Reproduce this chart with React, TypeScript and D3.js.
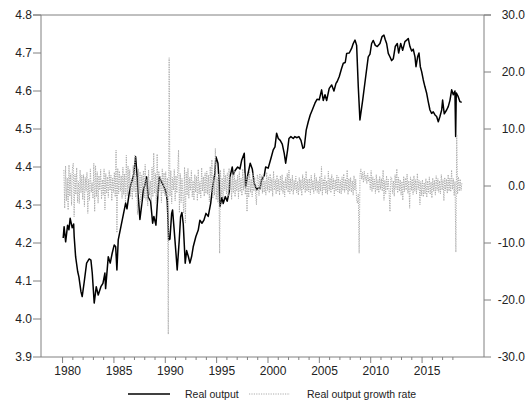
import React from 'react';
import * as d3 from 'd3';

// Log real output, [decimal year, value]
const output1980s: [number, number][] = [
  [1980.06, 4.213], [1980.15, 4.243], [1980.3, 4.203], [1980.49, 4.247], [1980.62, 4.235], [1980.74, 4.265],
  [1980.94, 4.24], [1981.08, 4.25], [1981.13, 4.217], [1981.27, 4.164], [1981.47, 4.125], [1981.59, 4.111],
  [1981.79, 4.072], [1981.91, 4.059], [1982.11, 4.098], [1982.34, 4.147], [1982.59, 4.158], [1982.76, 4.155],
  [1982.89, 4.121], [1983.08, 4.042], [1983.28, 4.085], [1983.47, 4.063], [1983.73, 4.085], [1983.93, 4.094],
  [1984.12, 4.121], [1984.19, 4.08], [1984.45, 4.164], [1984.64, 4.147], [1984.83, 4.173], [1985.03, 4.195],
  [1985.17, 4.19], [1985.29, 4.129], [1985.42, 4.208], [1985.68, 4.243], [1985.91, 4.274], [1986.14, 4.305],
  [1986.27, 4.29], [1986.46, 4.326], [1986.59, 4.348], [1986.78, 4.366], [1986.92, 4.38], [1987.11, 4.427],
  [1987.24, 4.383], [1987.37, 4.322], [1987.53, 4.262], [1987.76, 4.313], [1987.86, 4.339], [1988.02, 4.353],
  [1988.18, 4.374], [1988.34, 4.32], [1988.57, 4.31], [1988.77, 4.252], [1988.89, 4.27], [1989.09, 4.247],
  [1989.31, 4.339], [1989.41, 4.374], [1989.64, 4.36], [1989.87, 4.348],
];
const output1990s: [number, number][] = [
  [1990.06, 4.335], [1990.19, 4.313], [1990.33, 4.208], [1990.45, 4.21], [1990.62, 4.278], [1990.71, 4.287],
  [1990.84, 4.243], [1991.04, 4.173], [1991.16, 4.129], [1991.36, 4.208], [1991.49, 4.269], [1991.62, 4.28],
  [1991.75, 4.25], [1991.94, 4.147], [1992.08, 4.18], [1992.24, 4.165], [1992.4, 4.147], [1992.57, 4.165],
  [1992.72, 4.19], [1992.98, 4.217], [1993.21, 4.234], [1993.37, 4.26], [1993.57, 4.252], [1993.76, 4.26],
  [1993.96, 4.278], [1994.18, 4.27], [1994.42, 4.304], [1994.61, 4.348], [1994.83, 4.383], [1994.93, 4.427],
  [1995.13, 4.41], [1995.25, 4.357], [1995.32, 4.296], [1995.52, 4.32], [1995.64, 4.304], [1995.84, 4.322],
  [1996.03, 4.31], [1996.23, 4.335], [1996.3, 4.374], [1996.52, 4.4], [1996.62, 4.38], [1996.78, 4.39],
  [1997.05, 4.4], [1997.27, 4.395], [1997.44, 4.418], [1997.69, 4.436], [1997.82, 4.348], [1998.02, 4.378],
  [1998.27, 4.41], [1998.47, 4.395], [1998.66, 4.357], [1998.9, 4.34], [1999.05, 4.345], [1999.22, 4.343],
  [1999.38, 4.366], [1999.64, 4.378], [1999.77, 4.4],
];
const output2000s: [number, number][] = [
  [2000.02, 4.397], [2000.29, 4.423], [2000.51, 4.445], [2000.68, 4.453], [2000.84, 4.489], [2001.0, 4.475],
  [2001.19, 4.47], [2001.39, 4.46], [2001.58, 4.436], [2001.72, 4.41], [2001.91, 4.445], [2002.04, 4.475],
  [2002.23, 4.48], [2002.46, 4.475], [2002.62, 4.48], [2002.79, 4.477], [2003.01, 4.48], [2003.21, 4.47],
  [2003.4, 4.449], [2003.53, 4.452], [2003.72, 4.497], [2003.92, 4.519], [2004.11, 4.537], [2004.31, 4.55],
  [2004.57, 4.568], [2004.77, 4.578], [2004.99, 4.577], [2005.22, 4.603], [2005.38, 4.575], [2005.55, 4.59],
  [2005.71, 4.575], [2005.96, 4.607], [2006.2, 4.616], [2006.42, 4.6], [2006.62, 4.62], [2006.74, 4.625],
  [2006.94, 4.638], [2007.17, 4.66], [2007.33, 4.673], [2007.52, 4.675], [2007.66, 4.699], [2007.91, 4.7],
  [2008.14, 4.712], [2008.3, 4.725], [2008.47, 4.734], [2008.63, 4.72], [2008.79, 4.611], [2008.95, 4.524],
  [2009.22, 4.576], [2009.47, 4.629], [2009.76, 4.69], [2009.93, 4.697],
];
const output2010s: [number, number][] = [
  [2010.09, 4.725], [2010.25, 4.733], [2010.45, 4.72], [2010.64, 4.717], [2010.9, 4.725], [2011.1, 4.743],
  [2011.29, 4.747], [2011.42, 4.735], [2011.55, 4.725], [2011.71, 4.699], [2011.87, 4.69], [2012.04, 4.68],
  [2012.2, 4.685], [2012.39, 4.717], [2012.59, 4.725], [2012.72, 4.7], [2012.92, 4.725], [2013.11, 4.707],
  [2013.33, 4.73], [2013.5, 4.734], [2013.66, 4.738], [2013.82, 4.717], [2013.99, 4.705], [2014.14, 4.71],
  [2014.31, 4.69], [2014.41, 4.664], [2014.57, 4.69], [2014.7, 4.7], [2014.83, 4.664], [2014.96, 4.651],
  [2015.12, 4.629], [2015.28, 4.611], [2015.45, 4.594], [2015.6, 4.572], [2015.77, 4.55], [2015.93, 4.541],
  [2016.09, 4.545], [2016.26, 4.537], [2016.42, 4.533], [2016.58, 4.519], [2016.74, 4.533], [2016.91, 4.55],
  [2017.0, 4.576], [2017.16, 4.54], [2017.39, 4.55], [2017.55, 4.559], [2017.72, 4.576], [2017.88, 4.603],
  [2018.04, 4.59], [2018.2, 4.6], [2018.27, 4.48], [2018.33, 4.595], [2018.52, 4.585], [2018.69, 4.572],
  [2018.86, 4.57],
];

// Monthly growth rate of real output (%), one row per year
const growthStart = { year: 1980, month: 1 }; // February 1980
const growth1980s: number[] = [
  2.8, -3.9, 3.5, -2.6, 1.4, -4.2, 3.7, -1.8, 2.2, -3.4, 3.1,
  4.0, -5.4, 2.1, -1.5, 3.2, -2.9, 0.8, -3.1, 2.8, -1.2, 1.9, -2.4,
  2.0, -3.6, 1.5, -0.9, 2.4, -4.8, 1.2, -2.5, 3.0, -1.1, 0.6, -2.2,
  4.0, -4.5, 3.6, -1.9, 2.5, -3.0, 1.8, -0.7, 2.9, -2.3, 1.1, -1.6,
  3.0, -4.2, 2.2, -1.3, 1.6, -2.0, 2.7, -0.8, 1.9, -2.6, 1.4, -1.1,
  2.4, -1.9, 6.3, -8.2, 3.1, -1.4, 2.6, -0.9, 1.8, -2.2, 3.3, -1.5,
  2.1, -2.8, 5.4, -1.7, 3.5, -0.6, 2.9, -1.9, 1.2, -2.4, 3.6, -1.0,
  5.4, -2.0, 1.6, -5.0, 3.0, -1.4, 2.5, -3.2, 1.9, -0.5, 2.7, -2.1,
  3.8, -2.5, 1.2, -3.5, 2.8, -1.6, 0.9, -2.7, 3.3, -1.9, 5.8, -1.3,
  2.2, -3.2, 5.6, -1.8, 2.6, -0.9, 1.7, -2.9, 3.0, -1.2, 2.3, -1.7,
];
const growth1990s: number[] = [
  2.5, -2.0, 1.4, -26.0, 22.5, -1.8, 2.7, -3.1, 1.5, -0.7, 2.9, -2.6,
  1.8, -1.2, 2.6, 6.3, -4.7, 2.2, -2.9, 1.3, -1.5, -4.8, 3.3, -6.5,
  2.4, -1.6, 3.1, -2.2, 1.5, -0.8, 2.7, -1.9, 0.9, -2.5, 2.0, -1.1,
  1.7, -2.6, 2.9, -1.4, 0.8, -2.1, 3.2, -0.9, 1.6, -1.8, 2.3, -1.3,
  2.6, -1.5, 1.9, -2.8, 3.4, -1.0, 4.6, -2.2, 1.3, -1.6, 6.6, -2.4,
  1.5, -2.9, 2.2, -11.8, 2.8, -1.7, 1.4, -2.3, 3.0, -0.8, 1.9, -1.4,
  2.3, -1.8, 3.1, -0.7, 1.6, -2.4, 2.0, -1.2, 2.7, -1.9, 1.1, -0.9,
  1.9, -2.2, 2.5, -1.0, 1.4, -1.7, 3.0, -0.8, 2.2, -1.5, 1.6, -4.5,
  1.8, -2.0, 2.6, -1.1, 1.2, -1.9, 2.3, -0.9, 1.5, -1.4, -3.3, 2.0,
  1.4, -1.7, 2.2, -0.6, 1.8, -1.3, 2.0, -1.1, 0.9, -1.6, 2.4, -0.8,
];
const growth2000s: number[] = [
  1.6, -1.2, 2.1, -0.9, 1.3, -1.8, 2.6, -0.7, 1.1, -1.4, 1.9, -1.0,
  1.2, -1.6, 1.8, -0.8, 2.0, -1.3, 0.9, -1.9, 1.5, -0.6, 2.2, -1.1,
  2.8, -1.4, 1.3, -0.9, 1.9, -1.5, 1.0, -0.7, 1.7, -1.2, 0.8, -1.6,
  1.5, -0.8, 1.1, -1.7, 2.0, -0.6, 1.4, -1.2, 2.6, -0.9, 1.2, -1.0,
  1.3, -1.5, 1.9, -0.7, 1.0, -1.3, 2.2, -0.8, 1.5, -1.1, 0.9, -1.4,
  1.7, -0.9, 3.4, -1.6, 1.2, -0.7, 1.8, -1.3, 0.9, -1.5, 2.6, -0.8,
  1.4, -1.2, 2.0, -0.6, 1.3, -1.7, 1.1, -0.9, 1.9, -1.0, 1.5, -1.3,
  1.0, -1.4, 1.6, -0.8, 2.1, -1.1, 1.2, -0.7, 2.8, -1.5, 1.3, -0.9,
  1.5, -1.1, 0.9, -1.6, 1.8, -0.8, 1.2, -2.5, -3.0, -1.4, -11.8, 2.0,
  3.0, 1.2, 2.4, 0.6, 2.6, 1.0, 1.9, 0.4, 2.2, 0.8, 1.5, -0.6,
];
const growth2010s: number[] = [
  2.7, -1.0, 1.6, -0.5, 1.2, -1.3, 2.0, -0.8, 1.1, -1.2, 1.7, -0.6,
  1.3, -0.9, 2.8, -2.5, 1.0, -1.4, 1.8, -0.7, 1.2, -1.1, -4.5, 1.6,
  1.4, -1.3, 0.9, -1.8, 2.0, -0.6, 3.0, -1.2, 1.5, -0.9, 1.1, -1.6,
  0.8, -2.5, 1.7, -1.0, 1.4, -0.7, 2.1, -1.3, 0.9, -3.9, 1.6, -0.8,
  1.2, -1.5, 1.8, -0.9, 1.1, -1.4, 2.2, -0.6, 1.0, -3.3, 0.8, -1.7,
  1.1, -1.9, 0.6, -1.4, 1.3, -2.0, 0.9, -1.2, 1.6, -1.5, 0.7, -2.1,
  1.4, -0.9, 1.0, -1.6, 1.8, -0.8, 1.3, -1.1, 0.9, -1.4, 2.0, -0.7,
  1.1, -2.6, 1.5, -0.8, 1.2, -1.3, 2.0, -0.9, 1.4, -1.0, 2.8, -0.6,
  1.3, -1.7, 0.8, -11.6, 9.0, -1.4, 1.6, -0.9, 1.2, -0.8, 0.5,
];

// Axis ticks
const leftTicks = [3.9, 4.0, 4.1, 4.2, 4.3, 4.4, 4.5, 4.6, 4.7, 4.8];
const rightTicks = [-30, -20, -10, 0, 10, 20, 30];
const yearTicks = d3.range(1980, 2019);
const yearLabels = [1980, 1985, 1990, 1995, 2000, 2005, 2010, 2015];

const legendItems = ['Real output', 'Real output growth rate'];

const FONT = '"Liberation Sans", Arial, Helvetica, sans-serif';
const AXIS = '#808080';
const GROWTH = '#ababab';

export default function App() {
  const left = 41, right = 484, top = 15, bottom = 357;

  const x = d3.scaleLinear().domain([1977.9, 2021.03]).range([left, right]);
  const yL = d3.scaleLinear().domain([3.9, 4.8]).range([bottom, top]);
  const yR = d3.scaleLinear().domain([-30, 30]).range([bottom, top]);

  const output = [...output1980s, ...output1990s, ...output2000s, ...output2010s];
  const growth = [...growth1980s, ...growth1990s, ...growth2000s, ...growth2010s].map((g, i) => ({
    t: growthStart.year + (growthStart.month + i + 0.5) / 12,
    g,
  }));

  const outLine = d3.line<[number, number]>().x(d => x(d[0])).y(d => yL(d[1]));
  const growthLine = d3.line<{ t: number; g: number }>().x(d => x(d.t)).y(d => yR(d.g));

  return (
    <svg width={527} height={406} style={{ position: 'absolute', left: 0, top: 0, background: '#fff' }}
      fontFamily={FONT}>
      <rect width={527} height={406} fill="#fff" />
      {/* frame */}
      <line x1={left - 8} x2={right + 7} y1={top} y2={top} stroke={AXIS} strokeWidth={1} />
      <line x1={left} x2={left} y1={top} y2={bottom} stroke={AXIS} strokeWidth={1} />
      <line x1={right} x2={right} y1={top} y2={bottom} stroke={AXIS} strokeWidth={1} />
      <line x1={left} x2={right} y1={bottom} y2={bottom} stroke={AXIS} strokeWidth={1} />

      {/* left axis */}
      {leftTicks.map(v => (
        <g key={'l' + v}>
          <line x1={left - 8} x2={left} y1={yL(v)} y2={yL(v)} stroke={AXIS} />
          <text x={32} y={yL(v)} dy="0.36em" textAnchor="end" fontSize={12} fill="#222">{v.toFixed(1)}</text>
        </g>
      ))}

      {/* right axis */}
      {rightTicks.map(v => (
        <g key={'r' + v}>
          <line x1={right} x2={right + 7} y1={yR(v)} y2={yR(v)} stroke={AXIS} />
          <text x={525} y={yR(v)} dy="0.36em" textAnchor="end" fontSize={12} fill="#222">{v.toFixed(1)}</text>
        </g>
      ))}

      {/* time axis */}
      {yearTicks.map(yr => (
        <line key={'t' + yr} x1={x(yr)} x2={x(yr)} y1={bottom} y2={bottom + (yr % 5 === 0 ? 6 : 3)} stroke={AXIS} />
      ))}
      {yearLabels.map(yr => (
        <text key={'y' + yr} x={x(yr + 0.5)} y={375} textAnchor="middle" fontSize={12} fill="#222">{yr}</text>
      ))}

      {/* series */}
      <path d={outLine(output) ?? ''} fill="none" stroke="#000" strokeWidth={1.5} strokeLinejoin="round" />
      <path d={growthLine(growth) ?? ''} fill="none" stroke={GROWTH} strokeWidth={1} strokeDasharray="1.2 1.2" />

      {/* legend */}
      <line x1={128} x2={170} y1={394} y2={394} stroke="#000" strokeWidth={1.6} />
      <text x={185} y={398} fontSize={10.5} fill="#222">{legendItems[0]}</text>
      <line x1={249} x2={290} y1={394} y2={394} stroke={GROWTH} strokeWidth={1} strokeDasharray="1.2 1.2" />
      <text x={307} y={398} fontSize={10.5} fill="#222">{legendItems[1]}</text>
    </svg>
  );
}
